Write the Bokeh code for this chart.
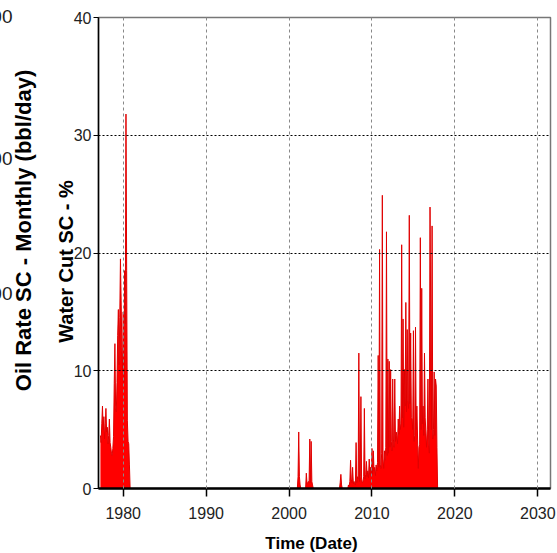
import math
from bokeh.plotting import figure
from bokeh.models import FixedTicker, ColumnDataSource, Range1d
from bokeh.core.properties import value
from bokeh.embed import file_html
from bokeh.resources import INLINE

# ---- data -------------------------------------------------------------
x_ticks = [1980, 1990, 2000, 2010, 2020, 2030]
y_ticks = [0, 10, 20, 30, 40]

early_start = 1977.25  # monthly values, water cut %
early_values = [4.5, 3.9, 5.5, 7.0, 5.0, 6.1, 4.2, 5.5, 6.8, 4.8,
                5.2, 3.8, 4.5, 5.9, 3.9, 3.5, 3.0, 2.8, 3.4, 4.4,
                8.9, 12.3, 7.0, 6.5, 9.0, 13.0, 15.2, 10.5, 14.5, 19.5,
                16.0, 12.0, 10.0, 15.0, 9.0, 18.5, 14.0, 31.8, 18.5, 5.8,
                4.0, 3.8, 2.0]

late_start = 2001.0  # monthly values, water cut %
late_values = [
    0.0, 1.0, 4.8, 1.0, 0.3, 0.0, 0.0, 0.0, 0.0, 0.0, 0.0, 0.0,      # 2001
    0.0, 1.3, 0.4, 0.5, 0.6, 0.5, 4.2, 0.5, 4.0, 0.6, 0.3, 0.0,      # 2002
    0.0, 0.0, 0.0, 0.0, 0.0, 0.0, 0.0, 0.0, 0.0, 0.0, 0.0, 0.0,      # 2003
    0.0, 0.0, 0.0, 0.0, 0.0, 0.0, 0.0, 0.0, 0.0, 0.0, 0.0, 0.0,      # 2004
    0.0, 0.0, 0.0, 0.0, 0.0, 0.0, 0.0, 0.0, 0.0, 0.0, 0.0, 0.0,      # 2005
    0.0, 0.0, 0.5, 1.2, 0.3, 0.0, 0.0, 0.0, 0.0, 0.0, 0.0, 0.0,      # 2006
    0.0, 0.0, 0.3, 0.2, 0.6, 2.4, 0.8, 0.5, 1.8, 0.4, 0.6, 0.5,      # 2007
    0.3, 3.9, 0.5, 1.0, 0.8, 11.5, 0.6, 1.0, 7.8, 0.8, 0.5, 0.6,     # 2008
    1.0, 6.8, 0.8, 1.2, 2.3, 1.0, 1.5, 0.9, 2.5, 1.2, 1.8, 1.0,      # 2009
    3.4, 1.2, 3.2, 1.5, 1.8, 1.1, 2.0, 1.5, 2.2, 11.3, 1.8, 20.3,    # 2010
    2.0, 1.7, 3.0, 24.9, 2.5, 1.7, 3.2, 2.4, 3.5, 21.8, 2.8, 11.0,   # 2011
    3.0, 10.8, 3.5, 10.1, 4.0, 3.2, 9.3, 4.2, 3.5, 9.3, 4.0, 4.8,    # 2012
    4.5, 3.8, 5.9, 4.6, 7.0, 5.0, 5.5, 20.7, 6.0, 14.4, 5.2, 10.1,   # 2013
    7.0, 15.8, 6.5, 13.5, 7.5, 6.8, 23.2, 7.2, 13.2, 6.0, 5.9, 5.0,  # 2014
    13.4, 4.0, 4.5, 13.7, 5.0, 7.0, 4.2, 1.7, 3.5, 3.7, 21.3, 5.0,   # 2015
    17.0, 5.5, 7.0, 4.5, 11.5, 6.0, 4.8, 3.5, 5.0, 9.3, 4.2, 3.0,    # 2016
    23.9, 14.9, 5.0, 22.3, 4.2, 5.0, 9.9, 4.5, 9.3, 8.7, 3.5, 0.0,   # 2017
]

outer_tick_labels = ["00", "00", "00"]
x_title = "Time (Date)"
y_title = "Water Cut SC - %"
outer_title = "Oil Rate SC - Monthly (bbl/day)"

# ---- build series -----------------------------------------------------
early_x = [early_start + i / 12 for i in range(len(early_values))]
late_x = [late_start + i / 12 for i in range(len(late_values))]
xs = early_x + [early_x[-1] + 1 / 12] + late_x
ys = early_values + [0.0] + late_values
src = ColumnDataSource(dict(x=xs, y=ys, z=[0.0] * len(xs)))

# ---- figure -----------------------------------------------------------
x0, x1 = 1977.02, 2031.53
p = figure(width=557, height=553, output_backend="svg", toolbar_location=None,
           x_range=Range1d(x0, x1), y_range=Range1d(0, 40),
           min_border_left=98, min_border_right=7, min_border_top=17,
           min_border_bottom=65)
p.background_fill_color = "white"
p.border_fill_color = "white"
p.outline_line_color = "#777777"
p.outline_line_width = 1.5

p.varea(x="x", y1="z", y2="y", source=src, fill_color="#ff0000")
p.line(x="x", y="y", source=src, line_color="#e00000", line_width=1)

font = "'Liberation Sans', Arial, sans-serif"

p.xaxis.ticker = FixedTicker(ticks=x_ticks)
p.yaxis.ticker = FixedTicker(ticks=y_ticks)
for ax in (p.xaxis[0], p.yaxis[0]):
    ax.major_label_text_font = font
    ax.major_label_text_font_size = "16px"
    ax.major_label_text_color = "#222222"
    ax.axis_line_color = "black"
    ax.major_tick_line_color = "black"
    ax.minor_tick_line_color = None
    ax.major_tick_in = 0

p.xaxis.axis_line_width = 2.5
p.xaxis.major_tick_out = 8
p.xaxis.major_tick_line_width = 1.5
p.xaxis.major_label_standoff = 10

p.yaxis.axis_line_width = 1.5
p.yaxis.major_tick_out = 5
p.yaxis.major_label_standoff = 2

p.xgrid.ticker = FixedTicker(ticks=x_ticks)
p.xgrid.grid_line_color = "#888888"
p.xgrid.grid_line_dash = "3 3"
p.xgrid.grid_line_width = 1
p.xgrid.level = "annotation"
p.ygrid.ticker = FixedTicker(ticks=[10, 20, 30])
p.ygrid.grid_line_color = "black"
p.ygrid.grid_line_dash = "2 2"
p.ygrid.grid_line_width = 1
p.ygrid.level = "annotation"

# titles and the cut-off neighbouring axis (oil rate), placed in screen pixels
ppx = 452 / (x1 - x0)      # pixels per year
ppy = 471 / 40             # pixels per percent
def dx(px):
    return x0 + (px - 98) / ppx
def dy(py):
    return (488 - py) / ppy

p.text(x=[dx(12)] * 3, y=[dy(16), dy(158), dy(293)], text=outer_tick_labels,
       text_align="right", text_baseline="middle", text_font=value(font),
       text_font_size="19px", text_color="#222222", level="overlay")
p.text(x=[dx(22.5)], y=[dy(230)], text=[outer_title],
       angle=math.pi / 2, text_align="center", text_baseline="middle",
       text_font=value(font), text_font_style="bold", text_font_size="22px",
       text_color="black", level="overlay")
p.text(x=[dx(65)], y=[dy(261)], text=[y_title],
       angle=math.pi / 2, text_align="center", text_baseline="middle",
       text_font=value(font), text_font_style="bold", text_font_size="20px",
       text_color="black", level="overlay")
p.text(x=[dx(311)], y=[dy(543)], text=[x_title],
       text_align="center", text_baseline="middle",
       text_font=value(font), text_font_style="bold", text_font_size="17px",
       text_color="black", level="overlay")

open("out.html", "w").write(file_html(p, INLINE))
